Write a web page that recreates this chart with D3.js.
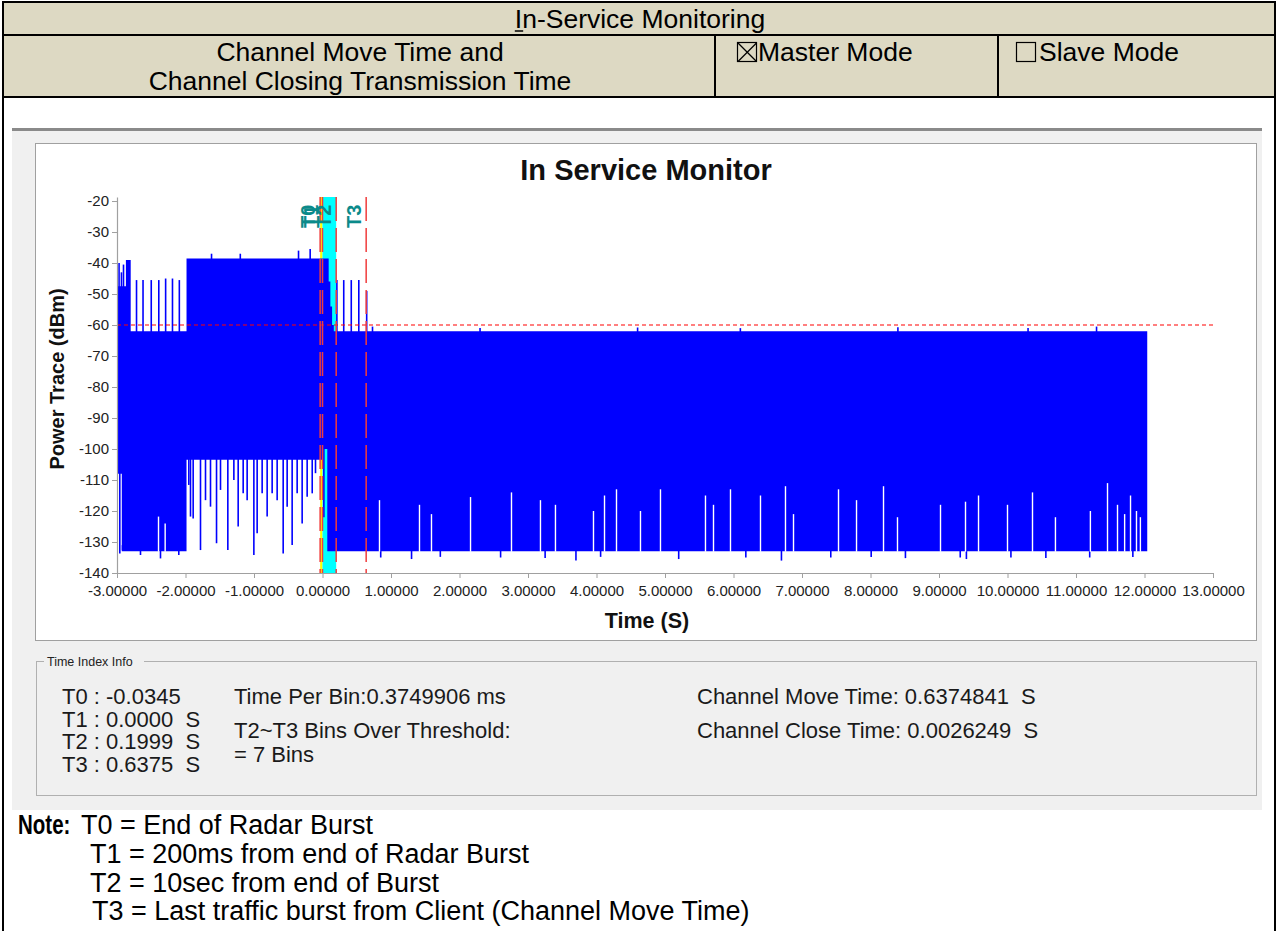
<!DOCTYPE html>
<html>
<head>
<meta charset="utf-8">
<script src="https://cdn.jsdelivr.net/npm/d3@7/dist/d3.min.js"></script>
<style>
  html, body { margin: 0; padding: 0; background: #fff; }
  svg { display: block; font-family: "Liberation Sans", Arial, sans-serif; }
</style>
</head>
<body>
<svg id="page" width="1277" height="931"></svg>
<script>
"use strict";

// ── data ──────────────────────────────────────────────────────────────────────

const xTicks = [-3, -2, -1, 0, 1, 2, 3, 4, 5, 6, 7, 8, 9, 10, 11, 12, 13];
const yTicks = [-20, -30, -40, -50, -60, -70, -80, -90, -100, -110, -120, -130, -140];

const markerNames = ["T0", "T1", "T2", "T3"];
const markerTimes = [-0.0345, 0.0, 0.1999, 0.6375];
const threshold = -60;

// dense trace envelope, one row per stretch of bins (step after)
const envTime = [-2.99, -2.93, -2.87, -2.80, -1.985, 0.0, 0.07, 0.09, 0.115, 0.14, 0.165, 12.04];
const envTop  = [-47.5, -47.5, -39, -62, -38.5, -38.5, -38.5, -46, -54, -60, -62, -62];
const envBot  = [-108, -133, -133, -133, -103.5, -100, -133, -133, -133, -133, -133, -133];

// single bins reaching above the envelope
const upTime = [-2.97, -2.935, -2.905, -2.715, -2.62, -2.50, -2.39, -2.29, -2.19, -2.09,
                -1.62, -1.20, -0.35, -0.18, 0.21, 0.31, 0.42, 0.53, 0.645,
                0.73, 2.30, 4.60, 6.10, 8.40, 10.30, 11.30];
const upVal  = [-40, -43, -40.5, -45.5, -45.5, -45.5, -45.5, -45, -45, -45.5,
                -37, -37, -36, -35.5, -45.5, -45.5, -45.5, -45.5, -49,
                -60.5, -61, -60.8, -61, -60.7, -61, -60.5];

// single bins dropping below the envelope
const downTime = [-2.959, -2.920, -2.657, -2.365, -2.098,
                  -1.952, -1.927, -1.888, -1.781, -1.708, -1.635, -1.547, -1.489, -1.382,
                  -1.294, -1.231, -1.158, -1.100, -1.002, -0.954, -0.881, -0.808, -0.735,
                  -0.662, -0.574, -0.516, -0.443, -0.370, -0.297, -0.224, -0.150, -0.102, 0.02,
                  0.85, 1.30, 1.72, 2.60, 3.25, 3.70, 4.06, 5.20, 6.18, 6.70, 7.42, 8.01,
                  8.51, 9.31, 9.40, 10.05, 10.56, 11.20, 11.83];
const downVal  = [-133.7, -131, -134.2, -135.3, -134.2,
                  -111.6, -121.8, -122.4, -132.6, -116.5, -118.6, -130.4, -113.2, -132.6,
                  -110, -125, -114.3, -116.5, -134.2, -127.2, -114.3, -121.8, -114.3,
                  -116.5, -133.7, -118.6, -131, -114.3, -124, -115.4, -114.3, -107.8, -122,
                  -135, -135.5, -134.8, -135, -135.2, -136, -134.8, -135.5, -135, -136, -135, -134.8,
                  -135.2, -135, -135.5, -135, -135.2, -135, -134.8];

// bins whose minimum sits above the floor (white gaps in the body)
const gapTime = [-2.394, -2.297, 0.832, 1.416, 1.591, 2.161, 2.759, 3.182, 3.401, 3.956, 4.117,
                 4.292, 4.642, 4.934, 5.591, 5.708, 5.956, 6.394, 6.759, 6.876, 7.533, 7.796,
                 8.190, 8.394, 9.022, 9.387, 9.577, 10.0, 10.365, 10.70, 11.21, 11.46, 11.606,
                 11.71, 11.796, 11.883, 11.94];
const gapVal  = [-121.8, -124, -116.5, -118, -121, -115.5, -114, -116.5, -118, -120, -115,
                 -113, -120, -113, -115, -118, -113, -115, -112, -121, -113, -116.5,
                 -112, -122, -118, -117, -115, -118, -114, -122, -120, -111, -118,
                 -121, -115, -120, -122];

// ── layout ───────────────────────────────────────────────────────────────────
const svg = d3.select("#page");
const x = d3.scaleLinear().domain([-3, 13]).range([117, 1213]);
const y = d3.scaleLinear().domain([-140, -18.7]).range([573, 197]);

// ── header table ─────────────────────────────────────────────────────────────
const TAN = "#ddd9c3";
svg.append("rect").attr("x", 3).attr("y", 2).attr("width", 1272).attr("height", 95).attr("fill", TAN);
const border = svg.append("g").attr("stroke", "#000").attr("stroke-width", 2);
border.append("line").attr("x1", 3).attr("x2", 3).attr("y1", 1).attr("y2", 931);
border.append("line").attr("x1", 1275).attr("x2", 1275).attr("y1", 1).attr("y2", 931);
border.append("line").attr("x1", 2).attr("x2", 1276).attr("y1", 2).attr("y2", 2);
border.append("line").attr("x1", 2).attr("x2", 1276).attr("y1", 35).attr("y2", 35);
border.append("line").attr("x1", 2).attr("x2", 1276).attr("y1", 97).attr("y2", 97);
border.append("line").attr("x1", 715).attr("x2", 715).attr("y1", 35).attr("y2", 97);
border.append("line").attr("x1", 998).attr("x2", 998).attr("y1", 35).attr("y2", 97);

const head = svg.append("g").attr("font-size", 26.5).attr("fill", "#000");
const title = head.append("text").attr("x", 640).attr("y", 28).attr("text-anchor", "middle")
  .text("In-Service Monitoring");
const tNode = title.node();
const ulStart = tNode.getStartPositionOfChar(0).x;
const ulW = tNode.getSubStringLength(0, 1);
svg.append("line").attr("x1", ulStart).attr("x2", ulStart + ulW + 1).attr("y1", 31).attr("y2", 31)
  .attr("stroke", "#000").attr("stroke-width", 1.5);

head.append("text").attr("x", 360).attr("y", 61).attr("text-anchor", "middle").text("Channel Move Time and");
head.append("text").attr("x", 360).attr("y", 90).attr("text-anchor", "middle").text("Channel Closing Transmission Time");

function checkbox(x0, checked) {
  const g = svg.append("g").attr("stroke", "#000").attr("stroke-width", 1.2).attr("fill", "none");
  g.append("rect").attr("x", x0 + 0.5).attr("y", 42.5).attr("width", 19).attr("height", 19);
  if (checked) {
    g.append("line").attr("x1", x0 + 1).attr("y1", 43).attr("x2", x0 + 19.5).attr("y2", 61.5);
    g.append("line").attr("x1", x0 + 19.5).attr("y1", 43).attr("x2", x0 + 1).attr("y2", 61.5);
  }
}
checkbox(737, true);
head.append("text").attr("x", 758).attr("y", 61).text("Master Mode");
checkbox(1016, false);
head.append("text").attr("x", 1039).attr("y", 61).text("Slave Mode");

// ── chart panel ──────────────────────────────────────────────────────────────
svg.append("rect").attr("x", 12).attr("y", 129).attr("width", 1250).attr("height", 681).attr("fill", "#f0f0f0");
svg.append("line").attr("x1", 12).attr("x2", 1262).attr("y1", 129.5).attr("y2", 129.5)
  .attr("stroke", "#8a8a8a").attr("stroke-width", 3);
svg.append("rect").attr("x", 35.5).attr("y", 143.5).attr("width", 1221).attr("height", 497)
  .attr("fill", "#fff").attr("stroke", "#a0a0a0");

svg.append("text").attr("x", 646).attr("y", 180).attr("text-anchor", "middle")
  .attr("font-size", 29).attr("font-weight", "bold").attr("fill", "#111").text("In Service Monitor");

const plot = svg.append("g");

// T0-T1 and T1-T2 bands
plot.append("rect").attr("x", x(markerTimes[0])).attr("y", y(-18.7))
  .attr("width", x(markerTimes[1]) - x(markerTimes[0])).attr("height", y(-140) - y(-18.7)).attr("fill", "#ffff00");
plot.append("rect").attr("x", x(markerTimes[1])).attr("y", y(-18.7))
  .attr("width", x(markerTimes[2]) - x(markerTimes[1])).attr("height", y(-140) - y(-18.7)).attr("fill", "#00ffff");

// trace body
const env = envTime.map((t, i) => ({ t, top: envTop[i], bot: envBot[i] }));
const area = d3.area()
  .x(d => x(d.t)).y0(d => y(d.bot)).y1(d => y(d.top))
  .curve(d3.curveStepAfter);
plot.append("path").datum(env).attr("fill", "#0000ff").attr("d", area);

function envAt(t) {
  const i = Math.max(0, d3.bisectRight(envTime, t) - 1);
  return env[i];
}

plot.append("g").attr("stroke", "#0000ff").attr("stroke-width", 1.6)
  .selectAll("line").data(upTime.map((t, i) => ({ t, v: upVal[i] }))).enter().append("line")
  .attr("x1", d => x(d.t)).attr("x2", d => x(d.t))
  .attr("y1", d => y(envAt(d.t).top) + 1).attr("y2", d => y(d.v));

plot.append("g").attr("stroke", "#0000ff").attr("stroke-width", 1.6)
  .selectAll("line").data(downTime.map((t, i) => ({ t, v: downVal[i] }))).enter().append("line")
  .attr("x1", d => x(d.t)).attr("x2", d => x(d.t))
  .attr("y1", d => y(envAt(d.t).bot) - 1).attr("y2", d => y(d.v));

plot.append("g").attr("stroke", "#ffffff").attr("stroke-width", 1.4)
  .selectAll("line").data(gapTime.map((t, i) => ({ t, v: gapVal[i] }))).enter().append("line")
  .attr("x1", d => x(d.t)).attr("x2", d => x(d.t))
  .attr("y1", d => y(envAt(d.t).bot) + 0.5).attr("y2", d => y(d.v));

// threshold
plot.append("line").attr("x1", x(-3)).attr("x2", x(13)).attr("y1", y(threshold)).attr("y2", y(threshold))
  .attr("stroke", "#ff0000").attr("stroke-width", 1.2).attr("stroke-dasharray", "4,3");

// markers
const mk = plot.append("g");
mk.selectAll("line").data(markerTimes).enter().append("line")
  .attr("x1", d => x(d)).attr("x2", d => x(d)).attr("y1", y(-18.7)).attr("y2", y(-140))
  .attr("stroke", "#f03c3c").attr("stroke-width", 1.5).attr("stroke-dasharray", "24,7");
mk.selectAll("text").data(markerNames).enter().append("text")
  .attr("transform", (d, i) => `translate(${x(markerTimes[i]) - 5},228) rotate(-90)`)
  .attr("font-size", 20).attr("font-weight", "bold").attr("fill", "#0b8a8a").text(d => d);

// axes
const xAxis = plot.append("g").attr("transform", `translate(0,${y(-140)})`)
  .call(d3.axisBottom(x).tickValues(xTicks).tickFormat(d => d.toFixed(5)).tickSize(5).tickSizeOuter(0));
const yAxis = plot.append("g").attr("transform", `translate(${x(-3)},0)`)
  .call(d3.axisLeft(y).tickValues(yTicks).tickFormat(d => String(d)).tickSize(5).tickSizeOuter(0));
[xAxis, yAxis].forEach(ax => {
  ax.select(".domain").attr("stroke", "#a0a0a0").attr("stroke-width", 1.2);
  ax.selectAll(".tick line").attr("stroke", "#a0a0a0");
  ax.selectAll("text").attr("fill", "#222").attr("font-size", 15)
    .attr("font-family", "'Liberation Sans', Arial, sans-serif");
});
xAxis.selectAll("text").attr("dy", "1.0em");

svg.append("text").attr("transform", "translate(64,379) rotate(-90)").attr("text-anchor", "middle")
  .attr("font-size", 20).attr("font-weight", "bold").attr("fill", "#111").text("Power Trace (dBm)");
svg.append("text").attr("x", 647).attr("y", 628).attr("text-anchor", "middle")
  .attr("font-size", 21.5).attr("font-weight", "bold").attr("fill", "#111").text("Time (S)");

// ── time index info ──────────────────────────────────────────────────────────
svg.append("rect").attr("x", 36.5).attr("y", 661.5).attr("width", 1220).attr("height", 134)
  .attr("fill", "none").attr("stroke", "#b0b0b0");
svg.append("rect").attr("x", 44).attr("y", 655).attr("width", 100).attr("height", 14).attr("fill", "#f0f0f0");
svg.append("text").attr("x", 47).attr("y", 666).attr("font-size", 12.5).attr("fill", "#222").text("Time Index Info");

const infoLeft = ["T0 : -0.0345", "T1 : 0.0000  S", "T2 : 0.1999  S", "T3 : 0.6375  S"];
const info = svg.append("g").attr("font-size", 22).attr("fill", "#1a1a1a");
info.selectAll("text.tl").data(infoLeft).enter().append("text").attr("class", "tl")
  .attr("x", 62).attr("y", (d, i) => 704 + i * 22.6).style("white-space", "pre").text(d => d);
info.append("text").attr("x", 234).attr("y", 704).text("Time Per Bin:0.3749906 ms");
info.append("text").attr("x", 234).attr("y", 738).text("T2~T3 Bins Over Threshold:");
info.append("text").attr("x", 234).attr("y", 762).text("= 7 Bins");
info.append("text").attr("x", 697).attr("y", 704).style("white-space", "pre").text("Channel Move Time: 0.6374841  S");
info.append("text").attr("x", 697).attr("y", 738).style("white-space", "pre").text("Channel Close Time: 0.0026249  S");

// ── note ─────────────────────────────────────────────────────────────────────
const note = svg.append("g").attr("font-size", 27).attr("fill", "#000");
note.append("text").attr("transform", "translate(18,834) scale(0.76,1)").attr("font-weight", "bold").text("Note:");
note.append("text").attr("x", 81).attr("y", 834).text("T0 = End of Radar Burst");
note.append("text").attr("x", 90).attr("y", 863).text("T1 = 200ms from end of Radar Burst");
note.append("text").attr("x", 90).attr("y", 892).text("T2 = 10sec from end of Burst");
note.append("text").attr("x", 92).attr("y", 920).text("T3 = Last traffic burst from Client (Channel Move Time)");
</script>
</body>
</html>
